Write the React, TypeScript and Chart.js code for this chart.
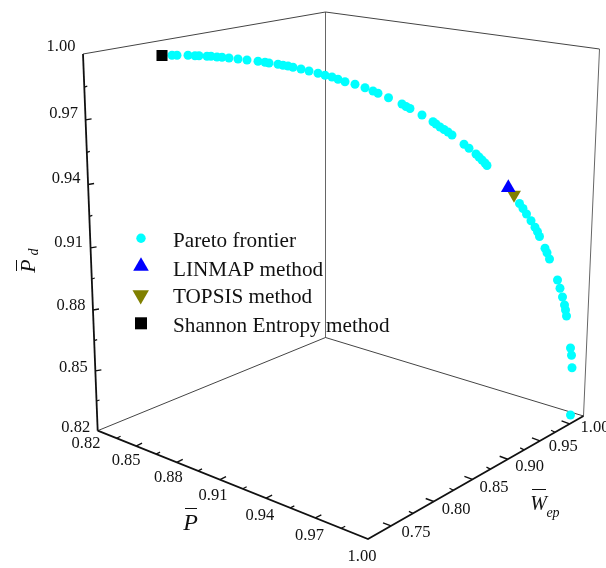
import React, { useEffect, useRef } from "react";
import { Chart, registerables } from "chart.js";

Chart.register(...registerables);

// ---- data (position on the projected drawing plane) ----
const frontierX = [172, 177, 188, 195, 199, 207, 211, 217, 222, 229, 238, 247, 258, 265, 269, 278, 283, 288, 293, 301, 309, 318, 325, 332, 338, 345, 355, 365, 373, 378, 388.5, 402, 406, 410, 422, 433, 436, 440, 444, 448, 452, 464, 469, 476, 479, 482, 485, 487, 519.5, 523, 526.5, 531, 535, 537.5, 539.5, 545, 547, 549.5, 557.5, 560, 562.5, 564.5, 565.5, 566.5, 570.5, 571.5, 572, 570.5];
const frontierY = [55.3, 55.3, 55.3, 55.7, 55.7, 56.3, 56.3, 57, 57.3, 58, 59, 60, 61.3, 62.3, 63, 64.3, 65.3, 66, 67.3, 69, 71, 73.3, 75.3, 77, 79.3, 81.7, 84.3, 87.7, 91, 93.3, 97.8, 104, 106.5, 108.5, 115, 121.7, 124, 127, 129.5, 132, 135, 144.3, 148.3, 154, 157, 160, 163, 165.5, 203.5, 208.5, 214, 220.7, 227.3, 231.7, 236.5, 248.3, 252.7, 259, 280, 288.3, 297, 305, 310, 316, 348, 355.3, 367.7, 415];
const linmapPoint = [{ x: 508.3, y: 187.8 }];
const topsisPoint = [{ x: 514, y: 194.8 }];
const shannonPoint = [{ x: 162, y: 55.5 }];

const pMajor = [0.85, 0.88, 0.91, 0.94, 0.97];
const pMinor = [0.835, 0.865, 0.895, 0.925, 0.955, 0.985];
const pLabels = [0.82, 0.85, 0.88, 0.91, 0.94, 0.97, 1.0];
const wMajor = [0.725, 0.775, 0.825, 0.875, 0.925, 0.975];
const wMinor = [0.75, 0.8, 0.85, 0.9, 0.95];
const wLabels = [0.75, 0.8, 0.85, 0.9, 0.95, 1.0];
const pdMajor = [0.85, 0.88, 0.91, 0.94, 0.97];
const pdMinor = [0.835, 0.865, 0.895, 0.925, 0.955, 0.985];
const pdLabels = [0.82, 0.85, 0.88, 0.91, 0.94, 0.97, 1.0];
const legendItems = ["Pareto frontier", "LINMAP method", "TOPSIS method", "Shannon Entropy method"];

// ---- projection of the box onto the drawing plane ----
type Pt = { x: number; y: number };
const O: Pt = { x: 97.7, y: 430.7 };
const A: Pt = { x: 368, y: 539 };
const B: Pt = { x: 583.5, y: 416 };
const C: Pt = { x: 325.5, y: 337.5 };
const T0: Pt = { x: 83, y: 54 };
const T1: Pt = { x: 325.5, y: 12 };
const T2: Pt = { x: 599.5, y: 49 };

const along = (a: Pt, b: Pt, t: number, k: number): Pt => {
  const s = t / (t + (1 - t) * k);
  return { x: a.x + (b.x - a.x) * s, y: a.y + (b.y - a.y) * s };
};
const pPos = (v: number) => along(O, A, (v - 0.82) / 0.18, 1.21);
const wPos = (v: number) => along(A, B, (v - 0.7) / 0.3, 0.76);
const pdPos = (v: number) => along(O, T0, (v - 0.82) / 0.18, 1.06);

const gap: Pt = { x: NaN, y: NaN };
const tickSegs = (vals: number[], pos: (v: number) => Pt, dx: number, dy: number): Pt[] =>
  vals.flatMap((v) => {
    const p = pos(v);
    return [p, { x: p.x + dx, y: p.y + dy }, gap];
  });

const lineDs = (data: Pt[], color: string, width: number) => ({
  type: "line" as const,
  data,
  showLine: true,
  borderColor: color,
  borderWidth: width,
  pointRadius: 0,
  spanGaps: false,
  fill: false,
  tension: 0,
  clip: false as const,
});
const markDs = (data: Pt[], style: string, color: string, radius: number, rotation = 0) => ({
  type: "scatter" as const,
  data,
  showLine: false,
  pointStyle: style,
  pointRotation: rotation,
  pointRadius: radius,
  pointBorderWidth: 0,
  borderWidth: 0,
  backgroundColor: color,
  pointBackgroundColor: color,
  clip: false as const,
});

const SERIF = '"Liberation Serif", "Times New Roman", serif';

const textPlugin = {
  id: "textPlugin",
  afterDatasetsDraw(chart: any) {
    const { ctx, scales } = chart;
    const px = (p: Pt) => ({ x: scales.x.getPixelForValue(p.x), y: scales.y.getPixelForValue(p.y) });
    const put = (s: string, p: Pt, font: string, align: CanvasTextAlign = "center", base: CanvasTextBaseline = "middle") => {
      const q = px(p);
      ctx.font = font;
      ctx.textAlign = align;
      ctx.textBaseline = base;
      ctx.fillStyle = "#111";
      ctx.fillText(s, q.x, q.y);
    };
    ctx.save();
    const tickFont = `16.5px ${SERIF}`;
    pdLabels.forEach((v) => {
      const p = pdPos(v);
      const t = (v - 0.82) / 0.18;
      put(v.toFixed(2), { x: p.x - 22, y: p.y - 3 - 4 * t }, tickFont);
    });
    const pA: Pt = { x: 86, y: 444 };
    const pB: Pt = { x: 362, y: 557 };
    pLabels.forEach((v) => {
      const t = (v - 0.82) / 0.18;
      put(v.toFixed(2), along(pA, pB, t, 1.174), tickFont);
    });
    const wA: Pt = { x: 416, y: 533 };
    const wB: Pt = { x: 595, y: 428 };
    wLabels.forEach((v) => {
      const t = (v - 0.75) / 0.25;
      put(v.toFixed(2), along(wA, wB, t, 0.864), tickFont);
    });

    legendItems.forEach((s, i) => {
      put(s, { x: 173, y: [246.7, 275.7, 302.7, 331.7][i] }, `21.2px ${SERIF}`, "left", "alphabetic");
    });

    // axis titles
    put("P", { x: 190.5, y: 530 }, `italic 24px ${SERIF}`, "center", "alphabetic");
    put("W", { x: 538.5, y: 510 }, `italic 20px ${SERIF}`, "center", "alphabetic");
    put("ep", { x: 553, y: 517 }, `italic 14px ${SERIF}`, "center", "alphabetic");
    const bar = (a: Pt, b: Pt) => {
      const p = px(a);
      const q = px(b);
      ctx.strokeStyle = "#111";
      ctx.lineWidth = 1;
      ctx.beginPath();
      ctx.moveTo(p.x, p.y);
      ctx.lineTo(q.x, q.y);
      ctx.stroke();
    };
    bar({ x: 185, y: 508.5 }, { x: 197, y: 508.5 });
    bar({ x: 532, y: 489.5 }, { x: 546, y: 489.5 });
    bar({ x: 16.5, y: 260 }, { x: 16.5, y: 271 });
    const rot = px({ x: 34.5, y: 266 });
    ctx.translate(rot.x, rot.y);
    ctx.rotate(-Math.PI / 2);
    ctx.textAlign = "center";
    ctx.textBaseline = "alphabetic";
    ctx.fillStyle = "#111";
    ctx.font = `italic 22px ${SERIF}`;
    ctx.fillText("P", 0, 0);
    ctx.font = `italic 14px ${SERIF}`;
    ctx.fillText("d", 14, 3);
    ctx.restore();
  },
};

export default function App() {
  const ref = useRef<HTMLCanvasElement>(null);
  useEffect(() => {
    if (!ref.current) return;
    const frontier = frontierX.map((x, i) => ({ x, y: frontierY[i] }));
    const chart = new Chart(ref.current, {
      type: "scatter",
      data: {
        datasets: [
          markDs(shannonPoint, "rect", "#000000", 7.8),
          markDs(linmapPoint, "triangle", "#0000FF", 8.5),
          markDs(topsisPoint, "triangle", "#808000", 8, 180),
          markDs(frontier, "circle", "#00FFFF", 4.5),
          markDs([{ x: 141, y: 238.3 }], "circle", "#00FFFF", 4.7),
          markDs([{ x: 141, y: 266.3 }], "triangle", "#0000FF", 9),
          markDs([{ x: 140.7, y: 295 }], "triangle", "#808000", 9.5, 180),
          markDs([{ x: 141, y: 323.3 }], "rect", "#000000", 8.5),
          lineDs([O, A, B], "#111111", 1.8),
          lineDs([O, T0], "#111111", 1.8),
          lineDs(tickSegs(pMajor, pPos, 6, -3), "#111111", 1.4),
          lineDs(tickSegs(pMinor, pPos, 4, -2), "#111111", 1.2),
          lineDs(tickSegs(wMajor, wPos, -8, -3), "#111111", 1.4),
          lineDs(tickSegs(wMinor, wPos, -4, -2), "#111111", 1.2),
          lineDs(tickSegs(pdMajor, pdPos, 6, -1), "#111111", 1.4),
          lineDs(tickSegs(pdMinor, pdPos, 3, -1), "#111111", 1.2),
          lineDs([T0, T1, T2], "#444444", 1),
          lineDs([O, C, B], "#444444", 1),
          lineDs([T1, C], "#666666", 1),
          lineDs([T2, B], "#666666", 1),
        ] as any,
      },
      options: {
        animation: false,
        responsive: false,
        layout: { padding: 0, autoPadding: false },
        scales: {
          x: { type: "linear", display: false, min: 0, max: 606 },
          y: { type: "linear", display: false, min: 0, max: 568, reverse: true },
        },
        plugins: { legend: { display: false }, tooltip: { enabled: false } },
      },
      plugins: [textPlugin],
    });
    return () => chart.destroy();
  }, []);
  return (
    <div style={{ position: "fixed", left: 0, top: 0, width: 606, height: 568, background: "#fff" }}>
      <canvas ref={ref} width={606} height={568} style={{ display: "block" }} />
    </div>
  );
}
